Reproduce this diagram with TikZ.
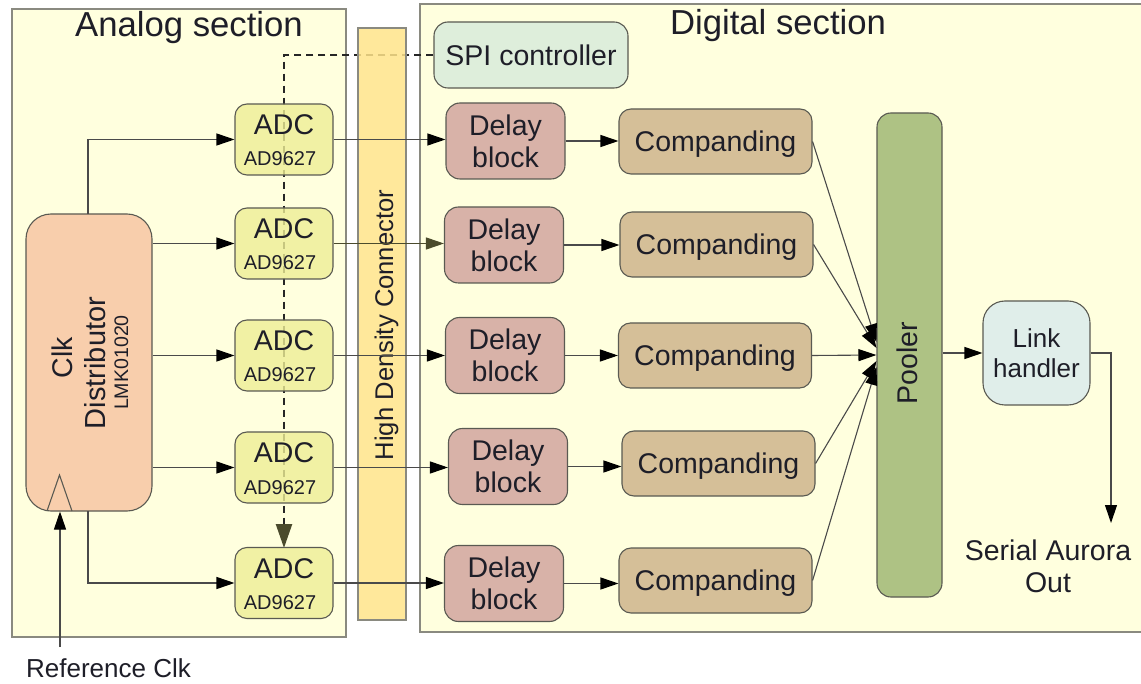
\documentclass[tikz,border=0pt]{standalone}
\usepackage{fontspec}
\setmainfont{Liberation Sans}
\usetikzlibrary{arrows.meta,calc}

\definecolor{bgyellow}{HTML}{FFFFDE}
\definecolor{sectline}{HTML}{8A8A80}
\definecolor{boxline}{HTML}{5A5A52}
\definecolor{connline}{HTML}{4A4A4A}
\definecolor{txt}{HTML}{1E1E28}
\definecolor{adcfill}{HTML}{EEEE96}
\definecolor{hdcfill}{HTML}{FFE48A}
\definecolor{clkfill}{HTML}{F8CEAC}
\definecolor{dlyfill}{HTML}{D8B2A8}
\definecolor{cmpfill}{HTML}{D5BF98}
\definecolor{poolfill}{HTML}{AEC284}
\definecolor{spifill}{HTML}{DEEEDB}
\definecolor{linkfill}{HTML}{E0EEEA}
\definecolor{olivedark}{HTML}{4B4B2C}

\begin{document}
\begin{tikzpicture}[x=1pt,y=-1pt,
  sect/.style={draw=sectline, fill=bgyellow, line width=1.4pt},
  box/.style={draw=boxline, line width=1.1pt, inner sep=0pt, text=txt, text depth=0pt},
  mainfont/.style={font=\fontsize{28.5}{32}\selectfont},
  titlefont/.style={font=\fontsize{34.7}{38}\selectfont},
  lbl/.style={inner sep=0pt, text=txt, anchor=base},
  conn/.style={draw=connline, line width=1.1pt,
    -{Triangle[length=18pt,width=12pt,color=black]}},
  ctrl/.style={draw=black!85, line width=2.4pt, dash pattern=on 7pt off 5pt,
    -{Triangle[length=24pt,width=16pt,color=olivedark]}},
  adcbox/.style={box, fill=adcfill, fill opacity=0.8, rounded corners=12pt,
    minimum width=98pt, minimum height=71pt},
  dlybox/.style={box, mainfont, align=center, fill=dlyfill, rounded corners=14pt,
    minimum width=119pt, minimum height=76pt},
  cmpbox/.style={box, mainfont, fill=cmpfill, rounded corners=12pt,
    minimum width=193pt, minimum height=65pt}
]
\useasboundingbox (0,0) rectangle (1141,684);
\clip (0,0) rectangle (1141,684);

% section backgrounds
\fill[white] (0,0) rectangle (1141,684);
\draw[sect] (12,9) rectangle (346,637);
\draw[sect] (420,4) rectangle (1160,632);
\node[lbl, titlefont] (antitle) at (189,37) {Analog section};
\node[lbl, titlefont] (dgtitle) at (778,35) {Digital section};

% control bus from the SPI controller down the ADC column
\node[box, mainfont, fill=spifill, rounded corners=14pt,
  minimum width=194pt, minimum height=66pt] (spi) at (531,55) {SPI controller};
\draw[ctrl] (spi.west) -| (284,548);

% high density connector
\node[box, fill=hdcfill, fill opacity=0.85, rounded corners=0pt,
  draw=sectline, minimum width=48pt, minimum height=592pt] (hdc) at (382,324) {};
\node[lbl, rotate=90, font=\fontsize{25.6}{28}\selectfont] (hdctext) at (393,325)
  {High Density Connector};

% clock distributor
\node[box, fill=clkfill, rounded corners=25pt,
  minimum width=126pt, minimum height=297pt] (clk) at (89,362.5) {};
\node[lbl, rotate=90, mainfont] (clkt1) at (72,357.5) {Clk};
\node[lbl, rotate=90, font=\fontsize{29}{32}\selectfont] (clkt2) at (105,363) {Distributor};
\node[lbl, rotate=90, font=\fontsize{19.6}{22}\selectfont] (clkt3) at (128,362.5) {LMK01020};
\draw[boxline, line width=1.1pt] (47,511) -- (59.5,475) -- (72,511);

% ADCs
\foreach \i/\y in {1/139.5,2/243.5,3/355.5,4/467.5,5/583}{
  \node[adcbox] (adc\i) at (284,\y) {};
  \node[lbl, font=\fontsize{28.5}{32}\selectfont] (adcn\i) at ($(adc\i.center)+(0,-4.5)$) {ADC};
  \node[lbl, font=\fontsize{20}{22}\selectfont] (adcp\i) at ($(adc\i.center)+(-4,26.5)$) {AD9627};
}

% delay blocks and companding
\foreach \i/\x/\y in {1/505.5/141,2/504/245,3/505/355.5,4/508/466.5,5/504/583.5}{
  \node[dlybox] (dly\i) at (\x,\y) {Delay\\block};
}
\foreach \i/\x/\y in {1/715.5/141.5,2/716.5/244.5,3/715/355.5,4/718.5/463.5,5/715.5/580.5}{
  \node[cmpbox] (cmp\i) at (\x,\y) {Companding};
}

% pooler and link handler
\node[box, fill=poolfill, rounded corners=14pt,
  minimum width=65pt, minimum height=484pt] (pool) at (909.5,355) {};
\node[lbl, rotate=90, mainfont] (pooltext) at (917,363) {Pooler};
\node[box, align=center, font=\fontsize{26}{30}\selectfont, fill=linkfill,
  rounded corners=22pt, minimum width=107pt, minimum height=104pt] (link) at (1036.5,353)
  {Link\\handler};

% clock tree
\coordinate (ctop) at (88,214);
\coordinate (cbot) at (88,511);
\draw[conn] (ctop) |- (adc1.west);
\foreach \i in {2,3,4}{
  \draw[conn] (clk.east |- adc\i.west) -- (adc\i.west);
}
\draw[conn] (cbot) |- (adc5.west);
\coordinate (refin) at (60,647);
\draw[conn] (refin) -- (refin |- clk.south);
\node[lbl, font=\fontsize{26}{28}\selectfont] (reftext) at (108.5,677) {Reference Clk};

% data path
\foreach \i in {1,3,4,5}{
  \draw[conn] (adc\i.east) -- (adc\i.east -| dly\i.west);
}
\draw[conn, draw=olivedark, -{Triangle[length=18pt,width=12pt,color=olivedark]}]
  (adc2.east) -- (adc2.east -| dly2.west);
\foreach \i in {1,...,5}{
  \draw[conn] (dly\i.east) -- (dly\i.east -| cmp\i.west);
}
\foreach \i/\o in {1/-13,2/-7,3/0,4/6,5/12}{
  \draw[conn] (cmp\i.east) -- ($(pool.west)+(0,\o)$);
}
\draw[conn] (pool.east |- link.west) -- (link.west);
\coordinate (sout) at (1111,523);
\draw[conn] (link.east) -| (sout);
\node[inner sep=0pt, text=txt, mainfont, align=center, text depth=0pt] (outtext) at (1048,566)
  {Serial Aurora\\Out};
\end{tikzpicture}
\end{document}
